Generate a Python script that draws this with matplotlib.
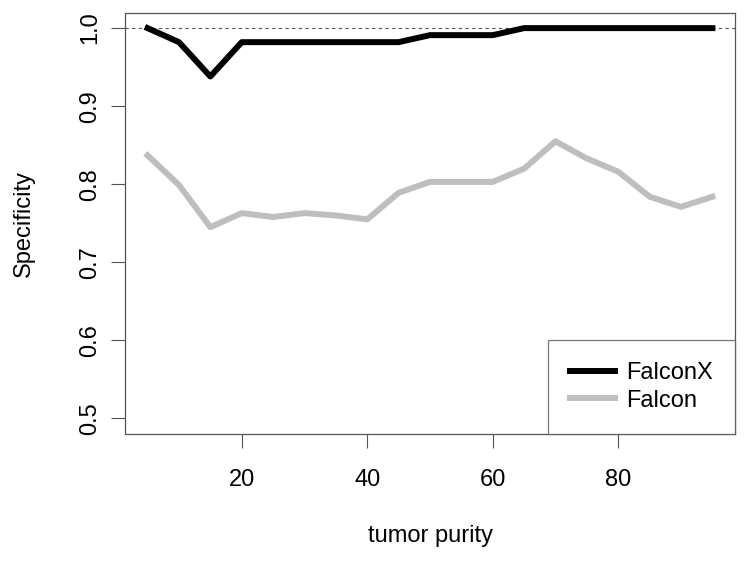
import numpy as np
import matplotlib
matplotlib.use("Agg")
from matplotlib import pyplot as plt

plt.rcParams['font.family'] = ['Liberation Sans', 'DejaVu Sans']

purity = [5, 10, 15, 20, 25, 30, 35, 40, 45, 50, 55, 60, 65, 70, 75, 80, 85, 90, 95]
falconx = [1.0, 0.982, 0.938, 0.982, 0.982, 0.982, 0.982, 0.982, 0.982, 0.991,
           0.991, 0.991, 1.0, 1.0, 1.0, 1.0, 1.0, 1.0, 1.0]
falcon = [0.837, 0.799, 0.745, 0.763, 0.758, 0.763, 0.760, 0.755, 0.789, 0.803,
          0.803, 0.803, 0.820, 0.855, 0.833, 0.816, 0.784, 0.771, 0.784]
xticks = [20, 40, 60, 80]
yticks = [0.5, 0.6, 0.7, 0.8, 0.9, 1.0]

fig = plt.figure(figsize=(7.48, 5.64), dpi=100)
ax = fig.add_axes([125/748, 1 - 434/564, 610/748, 421.5/564])

ax.axhline(1.0, color='#555555', lw=0.8, ls=(0, (3, 3)), zorder=1)
ax.plot(purity, falconx, color='black', lw=4.3, label='FalconX', zorder=3)
ax.plot(purity, falcon, color='#BEBEBE', lw=4.3, label='Falcon', zorder=2)

ax.set_xlim(1.4, 98.6)
ax.set_ylim(0.48, 1.02)
ax.set_xticks(xticks)
ax.set_yticks(yticks)
ax.set_yticklabels(['%.1f' % v for v in yticks], rotation=90, va='center')
ax.tick_params(axis='both', labelsize=17, length=10, width=0.8, color='#555555', pad=7)
ax.tick_params(axis='x', pad=15)
for s in ax.spines.values():
    s.set_color('#555555')
    s.set_linewidth(0.9)

ax.set_xlabel('tumor purity', fontsize=17, labelpad=25)
ax.set_ylabel('Specificity', fontsize=17, labelpad=32)

leg = ax.legend(loc='lower right', fontsize=17, frameon=True, fancybox=False,
                borderaxespad=0, handlelength=1.9, borderpad=0.95, labelspacing=0.22,
                handletextpad=0.45)
leg.get_frame().set_edgecolor('#555555')
leg.get_frame().set_linewidth(0.9)

fig.savefig('out.png', dpi=100)
